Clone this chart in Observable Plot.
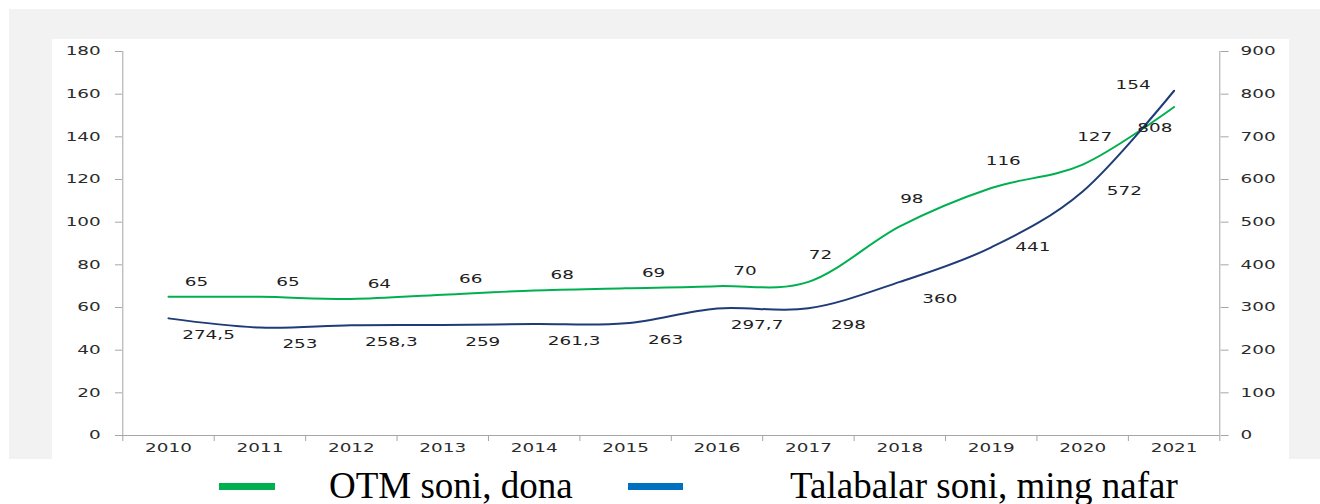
<!DOCTYPE html>
<html>
<head>
<meta charset="utf-8">
<script src="https://cdn.jsdelivr.net/npm/d3@7"></script>
<script src="https://cdn.jsdelivr.net/npm/@observablehq/plot@0.6"></script>
<style>
  html, body { margin: 0; padding: 0; background: #fff; width: 1320px; height: 504px; overflow: hidden; }
  #bg { position: absolute; left: 9px; top: 9px; width: 1311px; height: 450px; background: #f2f2f2; }
  #chart { position: absolute; left: 52px; top: 39px; width: 1237px; height: 420px; background: #fff; }
  #chart svg path, #chart svg line { vector-effect: non-scaling-stroke; }
  .sw { position: absolute; height: 7px; }
  .lg { position: absolute; font-family: "Liberation Serif", "Times New Roman", serif; font-size: 37px; line-height: 37px; color: #000; white-space: nowrap; }
</style>
</head>
<body>
<div id="bg"></div>
<div id="chart"></div>
<div id="legend"></div>
<script>
// ---- data ----
const years = [2010, 2011, 2012, 2013, 2014, 2015, 2016, 2017, 2018, 2019, 2020, 2021];
const otmCount = [65, 65, 64, 66, 68, 69, 70, 72, 98, 116, 127, 154];
const students = [274.5, 253, 258.3, 259, 261.3, 263, 297.7, 298, 360, 441, 572, 808];
const leftTicks = [0, 20, 40, 60, 80, 100, 120, 140, 160, 180];
const rightTicks = [0, 100, 200, 300, 400, 500, 600, 700, 800, 900];
const seriesNames = ["OTM soni, dona", "Talabalar soni, ming nafar"];
const seriesColors = ["#00b050", "#1f3b78"];
const legendSwatchColors = ["#00b050", "#0070c0"];

// ---- layout ----
const S = 1.6;            // horizontal stretch of the reference typography
const W = 1237, H = 420;
const w0 = W / S;
const axisGray = "#a6a6a6";
const textColor = "#2b2b2b";

const rightToLeft = d3.scaleLinear([0, 900], [0, 180]);
const fmt = v => String(v).replace(".", ",");
const rows = years.map((year, i) => ({
  year,
  otm: otmCount[i],
  stud: students[i],
  studL: rightToLeft(students[i]),
  otmLabel: fmt(otmCount[i]),
  studLabel: fmt(students[i])
}));
const boundaries = [...years.map(y => y - 0.5), years[years.length - 1] + 0.5];
const xDomain = [boundaries[0], boundaries[boundaries.length - 1]];

const greenLabelGroups = [
  {test: d => d.year <= 2016, dx: 17.5, dy: -15},
  {test: d => d.year >= 2017 && d.year <= 2020, dx: 7.5, dy: -27},
  {test: d => d.year === 2021, dx: -25.6, dy: -22}
];
const blueLabelGroups = [
  {test: d => d.year <= 2018, dx: 25, dy: 17},
  {test: d => d.year >= 2019 && d.year <= 2020, dx: 26, dy: 0},
  {test: d => d.year === 2021, dx: -12, dy: 38}
];

const labelFont = {fontFamily: "DejaVu Sans", fontSize: 11.5, fill: "#1e1e1e"};

const svg = Plot.plot({
  width: w0,
  height: H,
  marginLeft: 70 / S,
  marginRight: 70 / S,
  marginTop: 12,
  marginBottom: 24,
  style: {fontFamily: "DejaVu Sans", fontSize: "11.5px", color: textColor, background: "white"},
  x: {type: "linear", domain: xDomain},
  y: {domain: [0, 180]},
  marks: [
    Plot.ruleX(xDomain, {stroke: axisGray, strokeWidth: 1}),
    Plot.ruleY([0], {stroke: axisGray, strokeWidth: 1}),
    Plot.axisY({anchor: "left", ticks: leftTicks, tickSize: 7 / S, tickPadding: 9.4, stroke: axisGray, fill: textColor, tickFormat: d => String(d), label: null}),
    Plot.axisY({anchor: "right", ticks: rightTicks.map(rightToLeft), tickSize: 8 / S, tickPadding: 8, stroke: axisGray, fill: textColor, tickFormat: d => String(Math.round(rightToLeft.invert(d))), label: null}),
    Plot.axisX({ticks: boundaries, tickSize: 6, stroke: axisGray, fill: "none", tickFormat: () => "", label: null}),
    Plot.axisX({ticks: years, tickSize: 0, tickPadding: 8, fill: textColor, tickFormat: d => String(d), label: null}),
    Plot.line(rows, {x: "year", y: "otm", stroke: seriesColors[0], strokeWidth: 2, curve: "cardinal", tension: 0}),
    Plot.line(rows, {x: "year", y: "studL", stroke: seriesColors[1], strokeWidth: 2, curve: "cardinal", tension: 0}),
    ...greenLabelGroups.map(g => Plot.text(rows.filter(g.test), {x: "year", y: "otm", text: "otmLabel", dx: g.dx, dy: g.dy, ...labelFont})),
    ...blueLabelGroups.map(g => Plot.text(rows.filter(g.test), {x: "year", y: "studL", text: "studLabel", dx: g.dx, dy: g.dy, ...labelFont}))
  ]
});

svg.setAttribute("viewBox", `0 0 ${w0} ${H}`);
svg.setAttribute("width", W);
svg.setAttribute("height", H);
svg.setAttribute("preserveAspectRatio", "none");
svg.style.width = W + "px";
svg.style.height = H + "px";
svg.style.maxWidth = "none";
document.getElementById("chart").appendChild(svg);

// ---- legend ----
const legendLayout = [
  {swLeft: 219, swWidth: 56, textLeft: 329},
  {swLeft: 628, swWidth: 55, textLeft: 790}
];
const legend = document.getElementById("legend");
seriesNames.forEach((name, i) => {
  const sw = document.createElement("div");
  sw.className = "sw";
  sw.style.left = legendLayout[i].swLeft + "px";
  sw.style.top = "483px";
  sw.style.width = legendLayout[i].swWidth + "px";
  sw.style.background = legendSwatchColors[i];
  legend.appendChild(sw);
  const t = document.createElement("div");
  t.className = "lg";
  t.style.left = legendLayout[i].textLeft + "px";
  t.style.top = "467px";
  t.textContent = name;
  legend.appendChild(t);
});
</script>
</body>
</html>
